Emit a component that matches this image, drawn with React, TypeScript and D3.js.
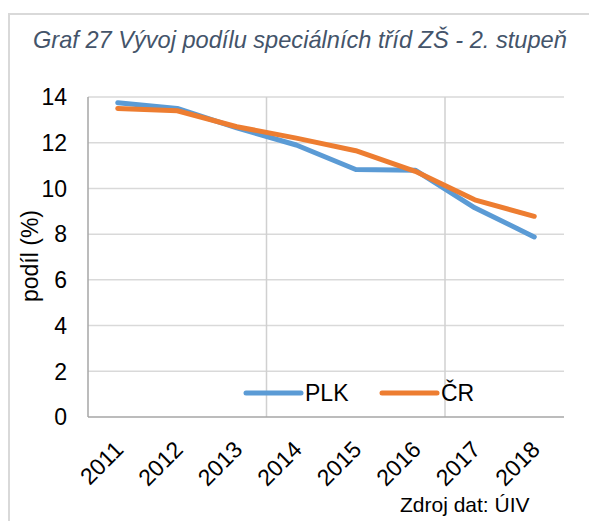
import React from "react";
import * as d3 from "d3";

const years = ["2011", "2012", "2013", "2014", "2015", "2016", "2017", "2018"];
const plk = [13.75, 13.5, 12.65, 11.9, 10.83, 10.8, 9.15, 7.88];
const cr = [13.5, 13.4, 12.7, 12.2, 11.65, 10.75, 9.5, 8.78];
const yTicks = [0, 2, 4, 6, 8, 10, 12, 14];
const seriesNames = ["PLK", "ČR"];
const seriesColors = ["#5b9bd5", "#ed7d31"];

const W = 589;
const H = 521;
const left = 88;
const right = 564;
const top = 97;
const bottom = 417;
const FONT = "'Liberation Sans', Arial, sans-serif";

export default function App() {
  const x = d3.scaleBand<string>().domain(years).range([left, right]);
  const y = d3.scaleLinear().domain([0, 14]).range([bottom, top]);
  const cx = (d: string) => (x(d) as number) + x.bandwidth() / 2;
  const line = d3
    .line<number>()
    .x((_, i) => cx(years[i]))
    .y((v) => y(v));
  const series = [plk, cr];
  const vGrid = [3, 6].map((i) => (x(years[i]) as number));

  return (
    <svg
      width={W}
      height={H}
      style={{ position: "absolute", left: 0, top: 0, background: "#fff" }}
    >
      <rect x={0} y={0} width={W} height={H} fill="#fff" />
      {/* frame */}
      <path d={`M9,${H} V14 H${W}`} fill="none" stroke="#d9d9d9" strokeWidth={2} />
      <text
        x={33}
        y={48}
        fontFamily={FONT}
        fontStyle="italic"
        fontSize={23.6}
        fill="#44546a"
      >
        Graf 27 Vývoj podílu speciálních tříd ZŠ - 2. stupeň
      </text>
      {/* horizontal grid */}
      {yTicks
        .filter((t) => t > 0)
        .map((t) => (
          <line
            key={"h" + t}
            x1={left}
            x2={right}
            y1={y(t)}
            y2={y(t)}
            stroke="#d9d9d9"
            strokeWidth={1.5}
          />
        ))}
      {vGrid.map((gx, i) => (
        <line
          key={"v" + i}
          x1={gx}
          x2={gx}
          y1={top}
          y2={bottom}
          stroke="#d0d0d0"
          strokeWidth={1.5}
        />
      ))}
      {/* axes */}
      <line x1={left} x2={left} y1={top} y2={bottom} stroke="#a6a6a6" strokeWidth={1.5} />
      <line x1={left} x2={right} y1={bottom} y2={bottom} stroke="#a6a6a6" strokeWidth={1.5} />
      {/* y tick labels */}
      {yTicks.map((t) => (
        <text
          key={"yt" + t}
          x={67}
          y={y(t)}
          dy="0.36em"
          textAnchor="end"
          fontFamily={FONT}
          fontSize={23}
          fill="#000"
        >
          {t}
        </text>
      ))}
      <text
        transform={`translate(38,256) rotate(-90)`}
        textAnchor="middle"
        fontFamily={FONT}
        fontSize={23}
        fill="#000"
      >
        podíl (%)
      </text>
      {/* x labels */}
      {years.map((yr) => (
        <text
          key={"xl" + yr}
          transform={`translate(${cx(yr) + 7},${451}) rotate(-45)`}
          textAnchor="end"
          fontFamily={FONT}
          fontSize={23}
          fill="#000"
        >
          {yr}
        </text>
      ))}
      {/* lines */}
      {series.map((s, i) => (
        <path
          key={"s" + i}
          d={line(s) || ""}
          fill="none"
          stroke={seriesColors[i]}
          strokeWidth={5}
          strokeLinecap="round"
          strokeLinejoin="round"
        />
      ))}
      {/* legend */}
      {seriesNames.map((n, i) => {
        const lx = i === 0 ? 246 : 382;
        return (
          <g key={"lg" + n}>
            <line
              x1={lx}
              x2={lx + 55}
              y1={393}
              y2={393}
              stroke={seriesColors[i]}
              strokeWidth={5}
              strokeLinecap="round"
            />
            <text
              x={lx + 59}
              y={393}
              dy="0.36em"
              fontFamily={FONT}
              fontSize={23}
              fill="#000"
            >
              {n}
            </text>
          </g>
        );
      })}
      <text x={400} y={512} fontFamily={FONT} fontSize={21} fill="#000">
        Zdroj dat: ÚIV
      </text>
    </svg>
  );
}
